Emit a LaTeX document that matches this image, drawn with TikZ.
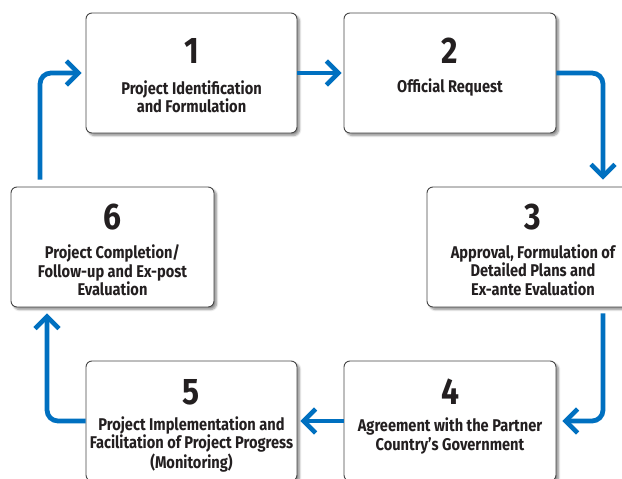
\documentclass[tikz,border=0pt]{standalone}
\usepackage{fontspec}
\setmainfont[FakeStretch=0.86]{Fira Sans}
\usetikzlibrary{arrows.meta,shadows.blur,calc}
\definecolor{flowblue}{RGB}{0,112,192}
\definecolor{ink}{RGB}{35,31,32}
\definecolor{boxline}{RGB}{70,70,70}
\begin{document}
\begin{tikzpicture}[x=1pt,y=-1pt,
  stepbox/.style={draw=boxline, line width=0.9pt, fill=white, rounded corners=6pt,
    minimum height=120pt, inner sep=0pt,
    blur shadow={shadow xshift=2.5pt, shadow yshift=-2.5pt, shadow blur steps=6, shadow opacity=45}},
  num/.style={font=\fontsize{37}{37}\bfseries, text=ink, inner sep=0pt},
  lbl/.style={font=\fontsize{17}{18.3}\bfseries, text=ink, align=center, inner sep=0pt},
  flow/.style={draw=flowblue, line width=4.8pt, rounded corners=11pt,
    -{Straight Barb[length=12pt,width=24pt,line width=4.5pt]}}
]
\clip (0,0) rectangle (622,479);
\useasboundingbox (0,0) rectangle (622,479);
% boxes
\node[stepbox, minimum width=211pt] (b1) at (191.5,73) {};
\node[stepbox, minimum width=212pt] (b2) at (450,73) {};
\node[stepbox, minimum width=212pt] (b3) at (533,247) {};
\node[stepbox, minimum width=212pt] (b4) at (450,421) {};
\node[stepbox, minimum width=211pt] (b5) at (191.5,421) {};
\node[stepbox, minimum width=203pt] (b6) at (112.5,247) {};
% numbers
\node[num] (n1) at (191.5,51) {1};
\node[num] (n2) at (450,51) {2};
\node[num] (n3) at (533,217) {3};
\node[num] (n4) at (450,392) {4};
\node[num] (n5) at (191.5,392) {5};
\node[num] (n6) at (112.5,217) {6};
% labels
\node[lbl] (t1) at (191.5,96.5) {Project Identification\\and Formulation};
\node[lbl] (t2) at (450,87) {Official Request};
\node[lbl] (t3) at (533,270) {Approval, Formulation of\\Detailed Plans and\\Ex-ante Evaluation};
\node[lbl] (t4) at (450,436) {Agreement with the Partner\\Country’s Government};
\node[lbl] (t5) at (191.5,444.5) {Project Implementation and\\Facilitation of Project Progress\\(Monitoring)};
\node[lbl] (t6) at (112.5,270.5) {Project Completion/\\Follow-up and Ex-post\\Evaluation};
% connectors
\draw[flow, shorten >=2pt] (b1.east) -- (b2.west);
\draw[flow, shorten >=7pt] (b2.east) -| ([xshift=70pt]b3.north);
\draw[flow, shorten <=6pt, shorten >=6pt] ([xshift=70pt]b3.south) |- (b4.east);
\draw[flow, shorten >=3pt] (b4.west) -- (b5.east);
\draw[flow, shorten >=6pt] (b5.west) -| ([xshift=-65.5pt]b6.south);
\draw[flow, shorten <=7pt, shorten >=4pt] ([xshift=-72.5pt]b6.north) |- (b1.west);
\end{tikzpicture}
\end{document}
